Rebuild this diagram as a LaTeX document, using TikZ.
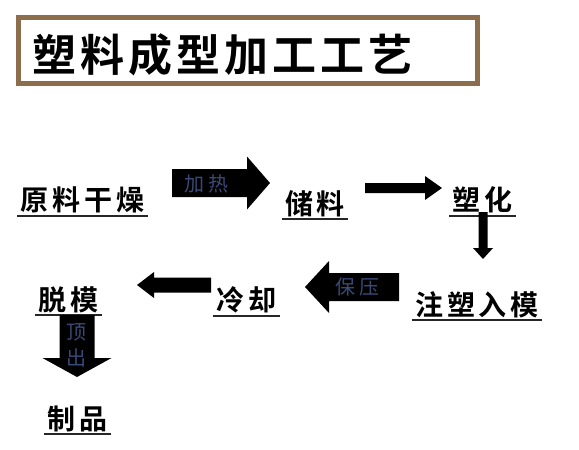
\documentclass[tikz,border=0pt]{standalone}
\usepackage{fontspec}
\usepackage{xcolor}
\usetikzlibrary{positioning,calc}

\newfontfamily\cjkbf[LetterSpace=14]{Noto Sans CJK SC Bold}
\newfontfamily\cjkhead[LetterSpace=9]{Noto Sans CJK SC Bold}
\newfontfamily\cjktag[LetterSpace=20]{Noto Sans CJK SC}
\definecolor{framebrown}{RGB}{140,110,76}
\definecolor{tagblue}{RGB}{58,74,118}

\begin{document}
\begin{tikzpicture}[x=0.5pt, y=-0.5pt]
    % Stili
    \tikzstyle{stage}=[inner xsep=1.5pt, inner ysep=0pt, font=\cjkbf\fontsize{14pt}{14pt}\selectfont]
    \tikzstyle{tag}=[text=tagblue, inner sep=0pt, font=\cjktag\fontsize{10pt}{13pt}\selectfont]
    \tikzstyle{uline}=[line width=1pt, black!85]
    \tikzset{pics/bigarrow/.style args={#1/#2/#3/#4}{code={
        \fill (0,-#2/2) -- (#1-#4,-#2/2) -- (#1-#4,-#3/2) -- (#1,0)
              -- (#1-#4,#3/2) -- (#1-#4,#2/2) -- (0,#2/2) -- cycle;}}}

    \useasboundingbox (0,0) rectangle (579,450);

    % Titolo
    \node (frame) [draw=framebrown, line width=2.5pt, minimum width=229.5pt, minimum height=33pt] at (248,50.5) {};
    \node (title) [anchor=west, inner sep=0pt, font=\cjkhead\fontsize{22pt}{22pt}\selectfont] at (32,55) {塑料成型加工工艺};

    % Fasi
    \node (raw) [stage] at (82.5,200) {原料干燥};
    \node (store) [stage] at (315,203.5) {储料};
    \node (plast) [stage] at (482.5,200) {塑化};
    \node (inject) [stage] at (477,304.5) {注塑入模};
    \node (cool) [stage] at (246.5,300) {冷却};
    \node (demold) [stage] at (68.5,299.5) {脱模};
    \node (product) [stage] at (77.5,418.5) {制品};

    % Sottolineature
    \foreach \n in {raw,store,plast,inject,cool,demold,product}
        \draw [uline] ([yshift=-1pt]\n.south west) -- ([yshift=-1pt]\n.south east);

    % Frecce
    \pic at (172,183) {bigarrow=98/28/53/23};
    \pic at (365,188) {bigarrow=77/10/24/17};
    \pic [rotate=-90] at (483,212) {bigarrow=47/9/20/11};
    \pic [rotate=180] at (399,287) {bigarrow=94/28/52/24};
    \pic [rotate=180] at (211,285) {bigarrow=74/15/26/17};
    \pic [rotate=-90] at (77,315) {bigarrow=62/35/69/19};

    % Etichette
    \node (heat) [tag] at (206,184) {加热};
    \node (hold) [tag] at (357,287) {保压};
    \node (eject) [tag, align=center] at (77,345) {顶\\出};
\end{tikzpicture}
\end{document}
